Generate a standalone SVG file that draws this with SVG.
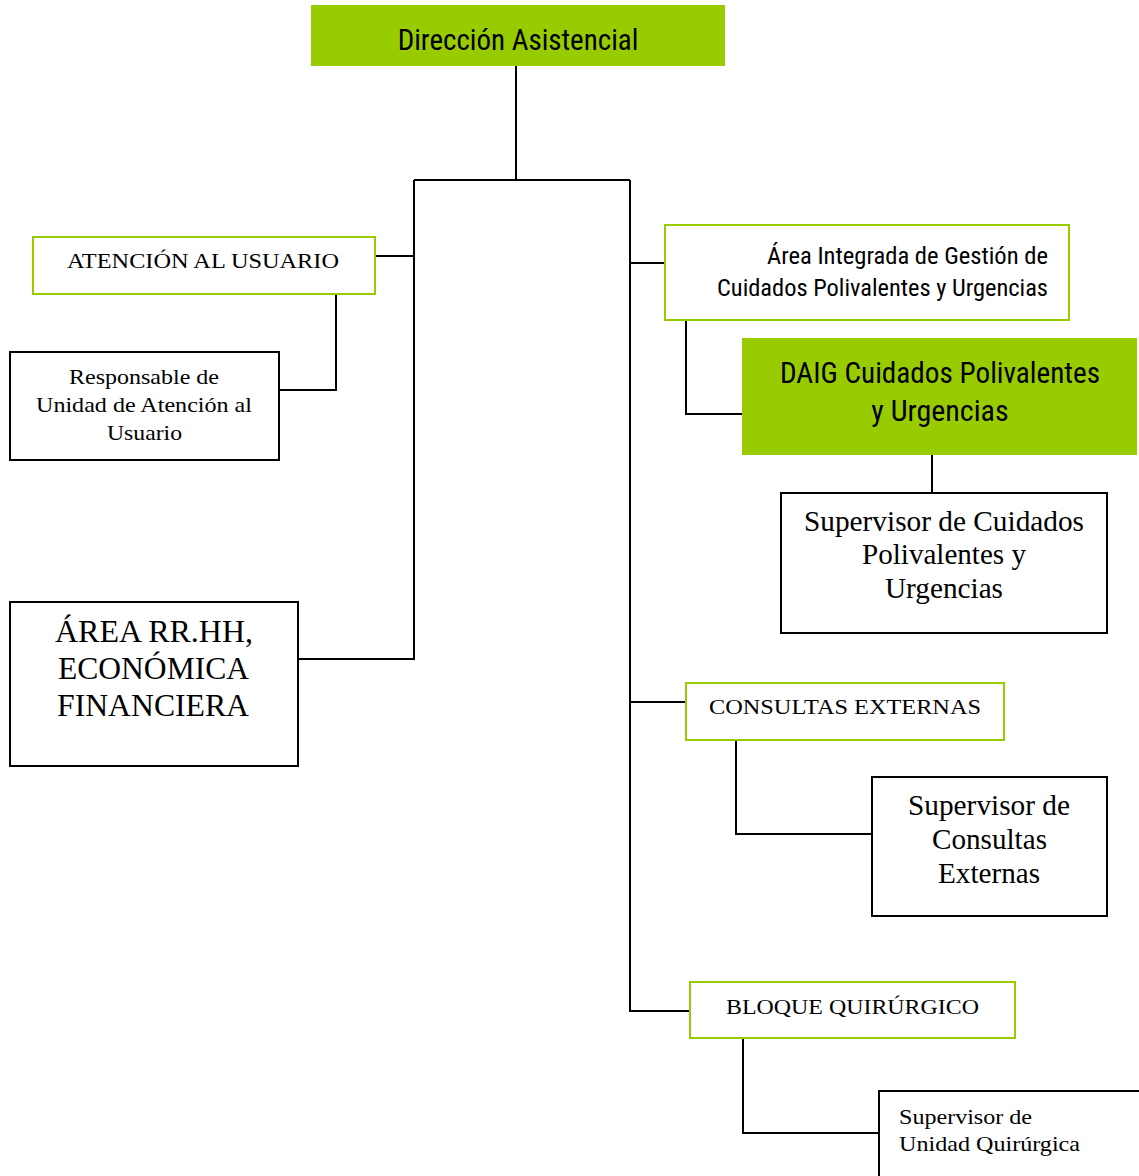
<svg xmlns="http://www.w3.org/2000/svg" width="1139" height="1176" viewBox="0 0 1139 1176">
<style>
.g{fill:#99CC00;stroke:none}
.gb{fill:#fff;stroke:#99CC00;stroke-width:2}
.bb{fill:#fff;stroke:#000;stroke-width:2}
.sn{font-family:"Liberation Sans Narrow","Roboto Condensed","Liberation Sans",sans-serif;fill:#000}
.sr{font-family:"Liberation Serif","Times New Roman",serif;fill:#000}
.c{fill:none;stroke:#000;stroke-width:2}
</style>
<rect width="1139" height="1176" fill="#fff"/>
<g id="connectors">
<path class="c" d="M516,66V180M414,180H630M414,180V660M630,180V1012"/>
<path class="c" d="M375,256H414M336,294V390H279"/>
<path class="c" d="M298,659H414"/>
<path class="c" d="M630,263H665M686,320V414H742"/>
<path class="c" d="M932,455V492"/>
<path class="c" d="M630,702H686M736,740V834H872"/>
<path class="c" d="M630,1011H690M743,1038V1133H879"/>
</g>
<g id="direccion">
<rect class="g" x="311" y="5" width="414" height="61"/>
<text class="sn" x="518" y="50" font-size="29" text-anchor="middle">Dirección Asistencial</text>
</g>
<g id="atencion">
<rect class="gb" x="33" y="237" width="342" height="57"/>
<text class="sr" x="67" y="268" font-size="21.5" textLength="272" lengthAdjust="spacingAndGlyphs">ATENCIÓN AL USUARIO</text>
</g>
<g id="responsable">
<rect class="bb" x="10" y="352" width="269" height="108"/>
<text class="sr" font-size="21.5" x="69" y="384" textLength="150" lengthAdjust="spacingAndGlyphs">Responsable de</text>
<text class="sr" font-size="21.5" x="36" y="412" textLength="216" lengthAdjust="spacingAndGlyphs">Unidad de Atención al</text>
<text class="sr" font-size="21.5" x="107" y="440" textLength="75" lengthAdjust="spacingAndGlyphs">Usuario</text>
</g>
<g id="area-rrhh">
<rect class="bb" x="10" y="602" width="288" height="164"/>
<text class="sr" font-size="31" x="55" y="642" textLength="198" lengthAdjust="spacingAndGlyphs">ÁREA RR.HH,</text>
<text class="sr" font-size="31" x="58" y="679" textLength="191" lengthAdjust="spacingAndGlyphs">ECONÓMICA</text>
<text class="sr" font-size="31" x="57" y="716" textLength="192" lengthAdjust="spacingAndGlyphs">FINANCIERA</text>
</g>
<g id="area-integrada">
<rect class="gb" x="665" y="225" width="404" height="95"/>
<text class="sn" font-size="24" x="767" y="264" textLength="281" lengthAdjust="spacingAndGlyphs">Área Integrada de Gestión de</text>
<text class="sn" font-size="24" x="717" y="296" textLength="331" lengthAdjust="spacingAndGlyphs">Cuidados Polivalentes y Urgencias</text>
</g>
<g id="daig">
<rect class="g" x="742" y="338" width="395" height="117"/>
<text class="sn" font-size="30" x="780" y="383" textLength="320" lengthAdjust="spacingAndGlyphs">DAIG Cuidados Polivalentes</text>
<text class="sn" font-size="30" x="940" y="421" text-anchor="middle">y Urgencias</text>
</g>
<g id="sup-cuidados">
<rect class="bb" x="781" y="493" width="326" height="140"/>
<text class="sr" font-size="29" x="804" y="531" textLength="280" lengthAdjust="spacingAndGlyphs">Supervisor de Cuidados</text>
<text class="sr" font-size="29" x="862" y="564" textLength="164" lengthAdjust="spacingAndGlyphs">Polivalentes y</text>
<text class="sr" font-size="29" x="885" y="598" textLength="118" lengthAdjust="spacingAndGlyphs">Urgencias</text>
</g>
<g id="consultas">
<rect class="gb" x="686" y="683" width="318" height="57"/>
<text class="sr" x="709" y="714" font-size="21.5" textLength="272" lengthAdjust="spacingAndGlyphs">CONSULTAS EXTERNAS</text>
</g>
<g id="sup-consultas">
<rect class="bb" x="872" y="777" width="235" height="139"/>
<text class="sr" font-size="29" x="908" y="815" textLength="162" lengthAdjust="spacingAndGlyphs">Supervisor de</text>
<text class="sr" font-size="29" x="932" y="849" textLength="115" lengthAdjust="spacingAndGlyphs">Consultas</text>
<text class="sr" font-size="29" x="938" y="883" textLength="102" lengthAdjust="spacingAndGlyphs">Externas</text>
</g>
<g id="bloque">
<rect class="gb" x="690" y="982" width="325" height="56"/>
<text class="sr" x="726" y="1014" font-size="21.5" textLength="253" lengthAdjust="spacingAndGlyphs">BLOQUE QUIRÚRGICO</text>
</g>
<g id="sup-quirurgica">
<rect class="bb" x="879" y="1091" width="270" height="100"/>
<text class="sr" font-size="21.5" x="899" y="1124" textLength="133" lengthAdjust="spacingAndGlyphs">Supervisor de</text>
<text class="sr" font-size="21.5" x="899" y="1151" textLength="181" lengthAdjust="spacingAndGlyphs">Unidad Quirúrgica</text>
</g>
</svg>
